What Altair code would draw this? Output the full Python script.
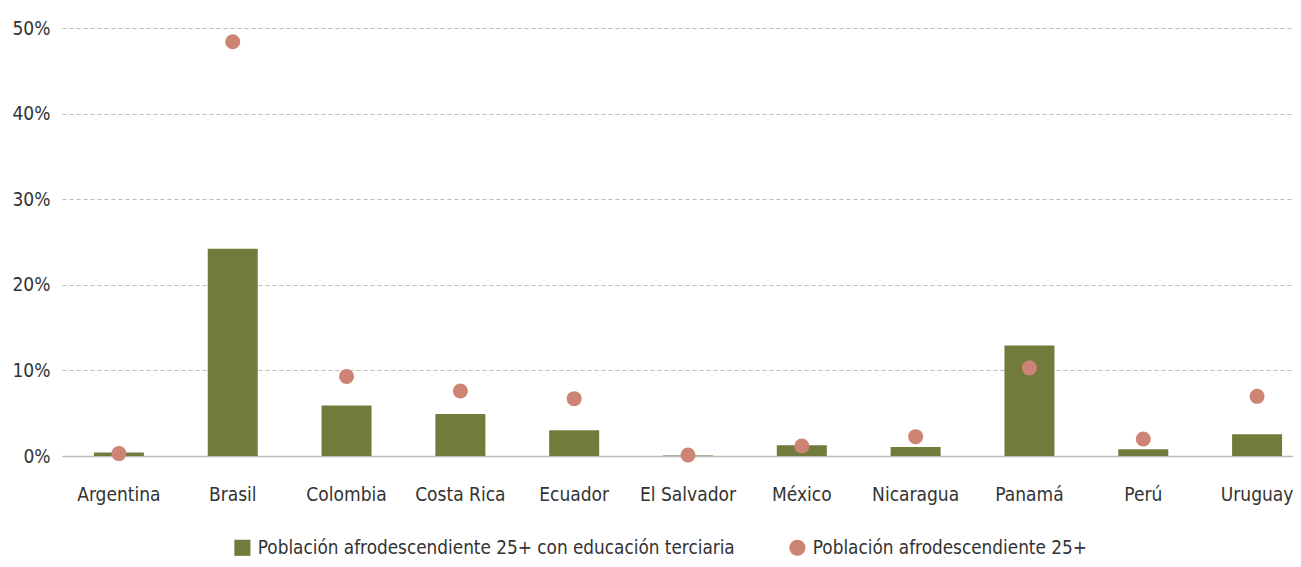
import altair as alt
import pandas as pd

countries = ["Argentina", "Brasil", "Colombia", "Costa Rica", "Ecuador", "El Salvador",
             "México", "Nicaragua", "Panamá", "Perú", "Uruguay"]
tertiary = [0.4, 24.2, 5.9, 4.9, 3.0, 0.05, 1.25, 1.05, 12.9, 0.78, 2.55]
population = [0.28, 48.4, 9.3, 7.6, 6.7, 0.12, 1.17, 2.26, 10.3, 1.99, 6.97]
series_names = ["Población afrodescendiente 25+ con educación terciaria",
                "Población afrodescendiente 25+"]
y_ticks = [0, 10, 20, 30, 40, 50]

GREEN = "#737b3c"
PINK = "#cd8475"
FONT = "'DejaVu Sans Condensed', 'Liberation Sans Narrow', Roboto, sans-serif"

df = pd.DataFrame({
    "country": countries * 2,
    "value": tertiary + population,
    "series": [series_names[0]] * len(countries) + [series_names[1]] * len(countries),
})

legend = alt.Legend(
    title=None, orient="none", direction="horizontal", legendX=171, legendY=510,
    labelFont=FONT, labelFontSize=18.8, labelColor="#333333", labelLimit=700,
    symbolSize=260, symbolStrokeWidth=0, symbolOpacity=1, columnPadding=53, labelOffset=6,
)

x = alt.X("country:N", sort=countries, title=None,
          scale=alt.Scale(range=[0, 1252], paddingInner=0.56, paddingOuter=0.28),
          axis=alt.Axis(labelAngle=0, labelFont=FONT, labelFontSize=19, labelColor="#333333",
                        ticks=False, tickSize=0, labelPadding=29, domain=True,
                        domainColor="#bbbbbb", domainWidth=1.5, grid=False))
y = alt.Y("value:Q", title=None,
          scale=alt.Scale(domain=[0, 50], nice=False),
          axis=alt.Axis(values=y_ticks, labelExpr="datum.value + '%'", labelFont=FONT,
                        labelFontSize=19, labelColor="#333333", ticks=False, tickSize=0,
                        labelPadding=12, domain=False, grid=True, gridColor="#bbbbbb",
                        gridDash=[4, 3], gridWidth=1))
color = alt.Color("series:N", scale=alt.Scale(domain=series_names, range=[GREEN, PINK]),
                  legend=legend)
shape = alt.Shape("series:N", scale=alt.Scale(domain=series_names, range=["square", "circle"]),
                  legend=legend)

base = alt.Chart(df)
bars = base.transform_filter(alt.datum.series == series_names[0]).mark_bar(size=50).encode(
    x=x, y=y, color=color)
points = base.transform_filter(alt.datum.series == series_names[1]).mark_point(
    filled=True, size=225, opacity=1).encode(x=x, y=y, color=color, shape=shape)

chart = alt.layer(bars, points).properties(
    width=1231, height=428,
    autosize=alt.AutoSizeParams(type="none"),
    padding={"left": 54, "top": 20, "right": 0, "bottom": 103},
).configure_view(stroke=None)

chart.save("out.html", embed_options={"renderer": "svg", "actions": False})
